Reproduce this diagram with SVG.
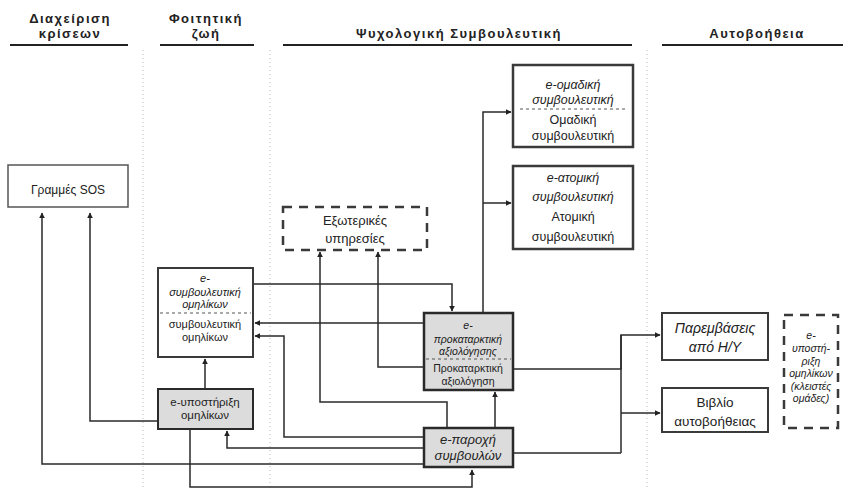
<svg xmlns="http://www.w3.org/2000/svg" width="843" height="490" viewBox="0 0 843 490">
<defs>
<marker id="ah" viewBox="0 0 10 10" refX="9" refY="5" markerWidth="6" markerHeight="6" orient="auto" markerUnits="userSpaceOnUse">
<path d="M0,0 L10,5 L0,10 z" fill="#222"/>
</marker>
<style>
text{font-family:"Liberation Sans",Arial,sans-serif;fill:#222;text-anchor:middle}
.hd{font-size:13px;font-weight:bold;letter-spacing:1.5px}
.i{font-style:italic}
.box{fill:#fff;stroke:#3a3a3a;stroke-width:2}
.gbox{fill:#dcdcdc;stroke:#2a2a2a;stroke-width:2.5}
.dbox{fill:none;stroke:#3a3a3a;stroke-width:2.5;stroke-dasharray:9,7}
.sep{stroke:#555;stroke-width:1;stroke-dasharray:3,3}
.ul{stroke:#222;stroke-width:2}
.col{stroke:#bbb;stroke-width:1;stroke-dasharray:1,3}
.c{fill:none;stroke:#2a2a2a;stroke-width:1.5}
</style>
</defs>
<rect width="843" height="490" fill="#fff"/>
<g id="headers">
<text class="hd" x="70" y="23">Διαχείριση</text>
<text class="hd" x="70" y="38">κρίσεων</text>
<line class="ul" x1="10" y1="45" x2="128" y2="45"/>
<text class="hd" x="206" y="23">Φοιτητική</text>
<text class="hd" x="206" y="38">ζωή</text>
<line class="ul" x1="160" y1="45" x2="254" y2="45"/>
<text class="hd" x="459" y="38">Ψυχολογική Συμβουλευτική</text>
<line class="ul" x1="283" y1="45" x2="632" y2="45"/>
<text class="hd" x="757" y="38">Αυτοβοήθεια</text>
<line class="ul" x1="662" y1="45" x2="843" y2="45"/>
<line class="col" x1="143" y1="50" x2="143" y2="490"/>
<line class="col" x1="270" y1="50" x2="270" y2="490"/>
<line class="col" x1="647" y1="50" x2="647" y2="490"/>
</g>
<g id="connectors">
<path class="c" d="M424,464 H42 V213" marker-end="url(#ah)"/>
<path class="c" d="M158,421 H90 V213" marker-end="url(#ah)"/>
<path class="c" d="M424,448 H227 V431" marker-end="url(#ah)"/>
<path class="c" d="M190,430 V487 H472 V470" marker-end="url(#ah)"/>
<path class="c" d="M205,388 V359" marker-end="url(#ah)"/>
<path class="c" d="M253,284 H452 V311" marker-end="url(#ah)"/>
<path class="c" d="M423,323 H255" marker-end="url(#ah)"/>
<path class="c" d="M424,437 H284 V336 H255" marker-end="url(#ah)"/>
<path class="c" d="M423,367 H378 V252" marker-end="url(#ah)"/>
<path class="c" d="M447,428 V402 H320 V252" marker-end="url(#ah)"/>
<path class="c" d="M483,312 V112 H511" marker-end="url(#ah)"/>
<path class="c" d="M483,203 H511" marker-end="url(#ah)"/>
<path class="c" d="M495,428 V392" marker-end="url(#ah)"/>
<path class="c" d="M514,369 H621 V335 H660" marker-end="url(#ah)"/>
<path class="c" d="M621,335 V453"/>
<path class="c" d="M621,413 H660" marker-end="url(#ah)"/>
<path class="c" d="M513,453 H621"/>
</g>
<g id="sos">
<rect class="box" x="8" y="165" width="120" height="42" style="stroke-width:1.5;stroke:#555"/>
<text x="68" y="194" font-size="12">Γραμμές SOS</text>
</g>
<g id="external">
<rect class="dbox" x="283" y="207" width="144" height="43"/>
<text x="355" y="225" font-size="13">Εξωτερικές</text>
<text x="355" y="243" font-size="13">υπηρεσίες</text>
</g>
<g id="group" font-size="12.5">
<rect class="box" x="513" y="65" width="120" height="82" style="stroke-width:2.5"/>
<text class="i" x="573" y="89">e-ομαδική</text>
<text class="i" x="573" y="104">συμβουλευτική</text>
<line class="sep" x1="520" y1="109" x2="626" y2="109"/>
<text x="573" y="124">Ομαδική</text>
<text x="573" y="140">συμβουλευτική</text>
</g>
<g id="individual" font-size="12.5">
<rect class="box" x="513" y="166" width="120" height="83" style="stroke-width:2.5"/>
<text class="i" x="573" y="182">e-ατομική</text>
<text class="i" x="573" y="201">συμβουλευτική</text>
<text x="573" y="221">Ατομική</text>
<text x="573" y="241">συμβουλευτική</text>
</g>
<g id="peer" font-size="11">
<rect class="box" x="158" y="268" width="95" height="89"/>
<text class="i" x="205" y="282">e-</text>
<text class="i" x="205" y="296">συμβουλευτική</text>
<text class="i" x="205" y="308">ομηλίκων</text>
<line class="sep" x1="160" y1="313" x2="251" y2="313"/>
<text x="205" y="328">συμβουλευτική</text>
<text x="205" y="341">ομηλίκων</text>
</g>
<g id="epeer" font-size="11.5">
<rect class="gbox" x="158" y="389" width="95" height="40" style="stroke-width:2"/>
<text x="205" y="406">e-υποστήριξη</text>
<text x="205" y="419">ομηλίκων</text>
</g>
<g id="assessment" font-size="10.5">
<rect class="gbox" x="424" y="313" width="89" height="77"/>
<text class="i" x="468" y="329">e-</text>
<text class="i" x="468" y="343">προκαταρκτική</text>
<text class="i" x="468" y="355">αξιολόγησης</text>
<line class="sep" x1="426" y1="359" x2="511" y2="359"/>
<text x="468" y="372">Προκαταρκτική</text>
<text x="468" y="385">αξιολόγηση</text>
</g>
<g id="advice" font-size="13">
<rect class="gbox" x="424" y="428" width="89" height="39"/>
<text class="i" x="468" y="444">e-παροχή</text>
<text class="i" x="468" y="460">συμβουλών</text>
</g>
<g id="computer" font-size="14">
<rect class="box" x="662" y="313" width="106" height="47"/>
<text class="i" x="715" y="333">Παρεμβάσεις</text>
<text class="i" x="715" y="352">από Η/Υ</text>
</g>
<g id="book" font-size="13.5">
<rect class="box" x="662" y="388" width="106" height="44"/>
<text x="715" y="407">Βιβλίο</text>
<text x="715" y="426">αυτοβοήθειας</text>
</g>
<g id="closedgroups" font-size="10.5">
<rect class="dbox" x="784" y="315" width="54" height="113"/>
<text class="i" x="811" y="339">e-</text>
<text class="i" x="811" y="352">υποστή-</text>
<text class="i" x="811" y="365">ριξη</text>
<text class="i" x="811" y="377">ομηλίκων</text>
<text class="i" x="811" y="390">(κλειστές</text>
<text class="i" x="811" y="402">ομάδες)</text>
</g>
</svg>
